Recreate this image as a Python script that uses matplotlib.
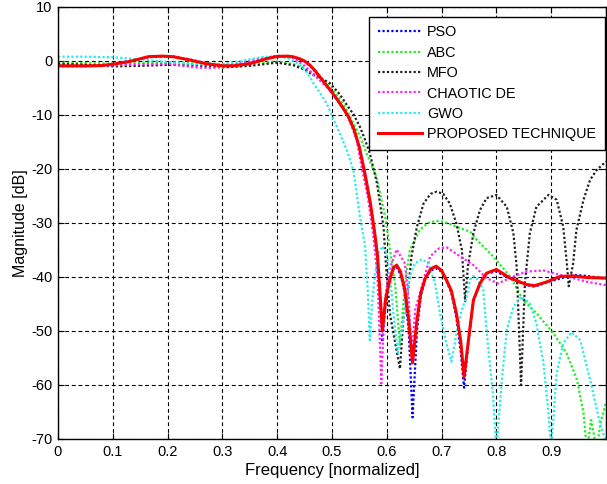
import matplotlib
matplotlib.use("Agg")
import matplotlib.pyplot as plt

plt.rcParams['font.family'] = ['Liberation Sans', 'DejaVu Sans']
plt.rcParams['axes.unicode_minus'] = False

# ---------------- data ----------------
red_f = [0, 0.05, 0.08, 0.10, 0.13, 0.165, 0.19, 0.21, 0.24, 0.27, 0.30, 0.32, 0.35, 0.38,
         0.40, 0.42, 0.43, 0.44, 0.45, 0.46, 0.47, 0.48, 0.49, 0.50, 0.51, 0.52, 0.53, 0.54,
         0.55, 0.56, 0.57, 0.578, 0.583, 0.587, 0.592, 0.598, 0.606, 0.612, 0.618, 0.625,
         0.633, 0.64, 0.647, 0.655, 0.662, 0.67, 0.68, 0.69, 0.70, 0.71, 0.718, 0.727, 0.735,
         0.741, 0.749, 0.758, 0.77, 0.782, 0.80, 0.825, 0.855, 0.87, 0.892, 0.916, 0.94,
         0.965, 1.0]
red_db = [-0.9, -0.9, -0.85, -0.6, -0.1, 0.8, 0.9, 0.8, 0.2, -0.5, -0.9, -0.9, -0.5, 0.4,
          0.85, 0.9, 0.75, 0.45, 0.0, -0.8, -1.9, -3.2, -4.5, -5.8, -7.2, -8.7, -10.3, -12.6,
          -16.0, -20.8, -26.3, -31.9, -36.0, -42.0, -50.0, -44.0, -40.3, -38.3, -37.8, -39.0,
          -42.4, -48.0, -55.9, -48.0, -43.0, -40.3, -38.5, -38.0, -38.8, -40.8, -42.6, -46.7,
          -52.0, -58.5, -51.7, -44.3, -41.2, -39.3, -38.6, -40.2, -41.4, -41.6, -40.9, -39.9,
          -39.8, -40.1, -40.2]

pso_f = [0, 0.05, 0.08, 0.10, 0.13, 0.165, 0.19, 0.21, 0.24, 0.27, 0.30, 0.32, 0.35, 0.38,
         0.40, 0.42, 0.43, 0.44, 0.45, 0.46, 0.47, 0.48, 0.49, 0.50, 0.51, 0.52, 0.53, 0.54,
         0.55, 0.56, 0.57, 0.578, 0.583, 0.587, 0.592, 0.598, 0.606, 0.612, 0.618, 0.625,
         0.633, 0.64, 0.647, 0.655, 0.662, 0.67, 0.68, 0.69, 0.70, 0.71, 0.718, 0.727, 0.735,
         0.741, 0.749, 0.758, 0.77, 0.782, 0.80, 0.825, 0.855, 0.87, 0.892, 0.916, 0.94,
         0.965, 1.0]
pso_db = [-0.8, -0.8, -0.7, -0.5, 0.0, 0.7, 0.85, 0.8, 0.3, -0.4, -0.8, -0.85, -0.4, 0.5,
          0.95, 0.9, 0.7, 0.4, -0.1, -0.9, -2.0, -3.3, -4.6, -5.9, -7.3, -8.8, -10.4, -12.7,
          -16.1, -20.9, -26.5, -32.0, -36.5, -43.0, -52.0, -44.5, -40.5, -38.6, -38.2, -39.5,
          -43.0, -50.0, -66.0, -50.0, -43.5, -40.5, -38.8, -38.4, -39.0, -41.0, -43.0, -47.5,
          -54.0, -60.5, -52.0, -44.5, -41.0, -39.3, -39.0, -40.3, -41.5, -41.8, -41.0, -40.3,
          -39.6, -39.8, -40.3]

abc_f = [0, 0.05, 0.1, 0.15, 0.2, 0.25, 0.3, 0.35, 0.4, 0.43, 0.45, 0.466, 0.49, 0.509,
         0.525, 0.539, 0.552, 0.563, 0.581, 0.597, 0.606, 0.615, 0.624, 0.633, 0.642, 0.66,
         0.675, 0.69, 0.705, 0.72, 0.734, 0.752, 0.764, 0.794, 0.825, 0.849, 0.873, 0.904,
         0.928, 0.947, 0.959, 0.965, 0.973, 0.983, 0.99, 1.0]
abc_db = [-0.3, -0.4, -0.5, -0.4, -0.3, -0.3, -0.6, -0.4, -0.1, -0.6, -1.3, -2.3, -4.0, -6.3,
          -8.7, -11.5, -14.2, -17.1, -21.4, -28.8, -35.0, -41.2, -52.6, -41.2, -35.0, -31.3,
          -30.0, -29.6, -29.8, -30.4, -31.0, -31.6, -33.1, -36.2, -39.9, -44.3, -46.7, -50.4,
          -54.1, -59.0, -65.2, -72.0, -66.5, -72.0, -67.0, -63.3]

mfo_f = [0, 0.05, 0.1, 0.15, 0.2, 0.25, 0.3, 0.35, 0.4, 0.43, 0.45, 0.466, 0.48, 0.496,
         0.512, 0.527, 0.54, 0.551, 0.56, 0.569, 0.582, 0.594, 0.6, 0.606, 0.615, 0.624, 0.63,
         0.639, 0.645, 0.655, 0.667, 0.68, 0.691, 0.703, 0.715, 0.727, 0.737, 0.743, 0.748,
         0.758, 0.77, 0.782, 0.80, 0.819, 0.831, 0.837, 0.845, 0.852, 0.861, 0.873, 0.895,
         0.91, 0.922, 0.928, 0.932, 0.94, 0.946, 0.959, 0.971, 0.983, 1.0]
mfo_db = [-0.5, -0.7, -1.0, -0.9, -0.7, -0.8, -1.2, -0.9, -0.3, -0.8, -1.6, -2.6, -3.2, -4.1,
          -5.9, -8.1, -10.0, -12.2, -14.5, -17.1, -22.6, -30.7, -40.0, -47.0, -52.0, -57.0,
          -48.0, -42.4, -36.2, -30.7, -26.4, -24.6, -24.2, -24.6, -26.4, -30.1, -35.0, -44.5,
          -38.0, -31.9, -27.6, -25.4, -24.8, -27.0, -31.9, -38.1, -60.0, -41.2, -31.9, -27.0,
          -24.8, -25.7, -30.7, -36.9, -41.7, -37.5, -31.3, -25.7, -22.0, -20.2, -18.6]

de_f = [0, 0.05, 0.1, 0.15, 0.2, 0.25, 0.28, 0.32, 0.36, 0.4, 0.43, 0.45, 0.466, 0.48,
        0.496, 0.512, 0.527, 0.545, 0.554, 0.565, 0.575, 0.583, 0.59, 0.596, 0.603, 0.618,
        0.633, 0.64, 0.645, 0.652, 0.667, 0.679, 0.695, 0.709, 0.734, 0.758, 0.782, 0.803,
        0.831, 0.855, 0.886, 0.916, 0.94, 0.965, 1.0]
de_db = [-1.0, -1.0, -0.8, -0.6, -0.5, -1.2, -1.3, -0.8, 0.3, 0.9, 0.5, -0.9, -2.5, -3.8,
         -5.4, -7.4, -9.7, -14.6, -19.6, -25.0, -32.0, -40.0, -59.7, -45.0, -39.3, -34.9,
         -37.5, -44.0, -54.8, -46.0, -40.6, -36.2, -34.7, -34.5, -36.2, -37.8, -40.2, -41.2,
         -39.9, -39.0, -38.8, -39.6, -40.2, -40.9, -41.5]

gwo_f = [0, 0.05, 0.1, 0.15, 0.2, 0.25, 0.3, 0.34, 0.37, 0.40, 0.42, 0.442, 0.455, 0.466,
         0.478, 0.49, 0.509, 0.527, 0.539, 0.551, 0.56, 0.565, 0.569, 0.573, 0.578, 0.585,
         0.592, 0.6, 0.606, 0.612, 0.62, 0.627, 0.636, 0.642, 0.651, 0.664, 0.676, 0.688,
         0.697, 0.708, 0.718, 0.728, 0.737, 0.746, 0.752, 0.758, 0.767, 0.776, 0.782, 0.794,
         0.80, 0.81, 0.819, 0.831, 0.846, 0.861, 0.873, 0.886, 0.895, 0.90, 0.91, 0.922,
         0.937, 0.953, 0.971, 0.989, 1.0]
gwo_db = [0.8, 0.8, 0.7, 0.3, -0.2, -0.6, -0.6, 0.1, 0.7, 0.9, 0.5, -0.7, -2.2, -4.1,
          -5.9, -7.8, -12.2, -16.5, -20.2, -28.8, -34.0, -42.0, -51.7, -45.0, -40.0, -35.6,
          -34.3, -35.6, -39.9, -46.7, -54.0, -50.0, -44.0, -39.9, -37.5, -36.7, -37.5, -41.2,
          -46.7, -52.0, -55.7, -50.0, -46.0, -43.6, -40.5, -39.8, -40.5, -42.4, -49.8, -62.2,
          -72.0, -59.0, -49.8, -45.5, -43.6, -44.9, -48.6, -56.0, -65.2, -72.0, -57.8, -52.3,
          -50.2, -51.7, -59.0, -67.1, -70.5]

labels = ['PSO', 'ABC', 'MFO', 'CHAOTIC DE', 'GWO', 'PROPOSED TECHNIQUE']
x_ticks = [0, 0.1, 0.2, 0.3, 0.4, 0.5, 0.6, 0.7, 0.8, 0.9, 1.0]
x_ticklabels = ['0', '0.1', '0.2', '0.3', '0.4', '0.5', '0.6', '0.7', '0.8', '0.9', '']
y_ticks = [10, 0, -10, -20, -30, -40, -50, -60, -70]

# ---------------- figure ----------------
fig = plt.figure(figsize=(6.07, 4.84), dpi=100)
ax = fig.add_axes([58 / 607, 1 - 439 / 484, 548 / 607, 432 / 484])

dot = (0, (1, 1))
ax.plot(pso_f, pso_db, color='#0000ff', lw=1.6, ls=dot, label=labels[0])
ax.plot(abc_f, abc_db, color='#22ee22', lw=1.6, ls=dot, label=labels[1])
ax.plot(mfo_f, mfo_db, color='#222222', lw=1.6, ls=dot, label=labels[2])
ax.plot(de_f, de_db, color='#ff22ff', lw=1.6, ls=dot, label=labels[3])
ax.plot(gwo_f, gwo_db, color='#22eeee', lw=1.6, ls=dot, label=labels[4])
ax.plot(red_f, red_db, color='#ff0000', lw=2.2, ls='-', label=labels[5])

ax.set_xlim(0, 1)
ax.set_ylim(-70, 10)
ax.set_xticks(x_ticks)
ax.set_xticklabels(x_ticklabels)
ax.set_yticks(y_ticks)
ax.tick_params(direction='in', length=4, width=0.8, top=True, right=True,
               labelsize=10.5, pad=4, colors='black')
ax.grid(True, color='black', ls=(0, (3.5, 2.5)), lw=0.8)
for s in ax.spines.values():
    s.set_linewidth(1.0)

ax.set_xlabel('Frequency [normalized]', fontsize=12, labelpad=3)
ax.set_ylabel('Magnitude [dB]', fontsize=11.5, labelpad=2.5)

leg = ax.legend(loc='upper right', bbox_to_anchor=(0.998, 0.978), borderaxespad=0,
                fontsize=10.4, handlelength=3.05, handletextpad=0.35, labelspacing=0.44,
                borderpad=0.62, fancybox=False, framealpha=1, edgecolor='black')
leg.get_frame().set_linewidth(1.0)

fig.savefig('out.png', dpi=100)
